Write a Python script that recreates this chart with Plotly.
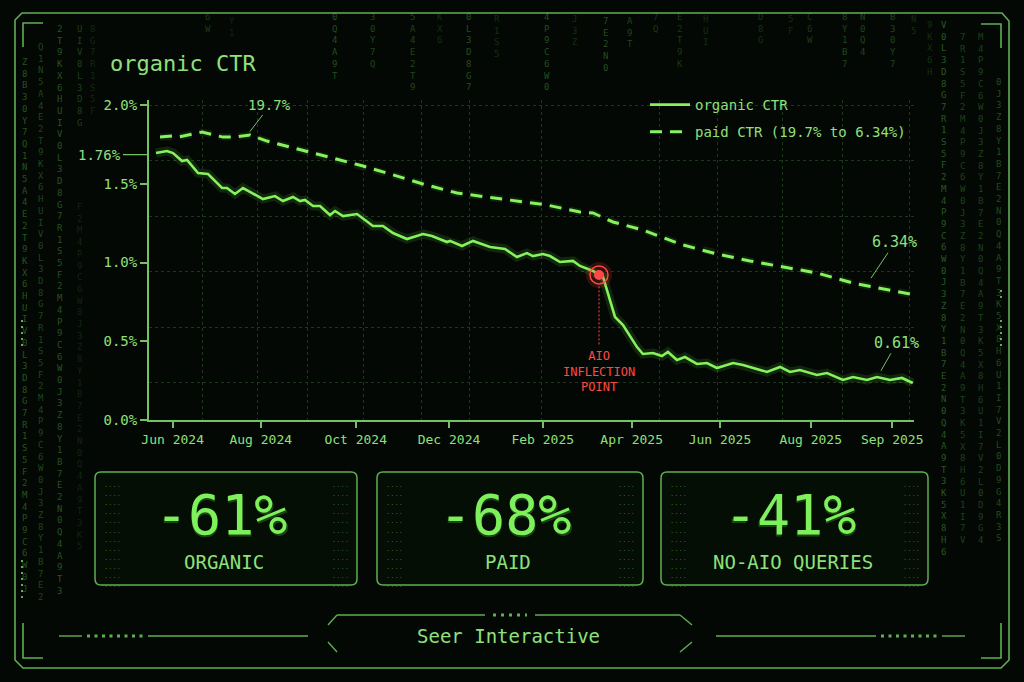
import plotly.graph_objects as go

W, H = 1024, 682

# ---------------- data (week index since start of June 2024) ----------------
org_week = [0.0, 0.99, 1.53, 2.34, 2.79, 3.78, 4.68, 5.94, 6.38, 7.10, 7.82, 8.45, 9.62,
            10.70, 11.42, 12.32, 12.95, 13.40, 14.12, 14.75, 15.65, 16.10, 16.82, 18.08,
            19.51, 20.41, 21.31, 22.57, 24.01, 24.82, 26.17, 26.44, 27.52, 28.51, 30.04,
            31.38, 32.46, 33.36, 33.90, 34.80, 35.43, 36.33, 37.50, 38.13, 39.30, 39.84,
            40.20, 41.28, 42.00, 43.26, 43.79, 44.69, 45.50, 46.04, 46.85, 47.57, 48.65,
            49.55, 50.45, 51.89, 52.79, 54.95, 56.12, 57.01, 57.91, 59.44, 60.34, 61.78,
            62.68, 63.94, 64.84, 66.01, 67.09, 68.06]
org_ctr = [1.695, 1.708, 1.695, 1.644, 1.651, 1.568, 1.562, 1.473, 1.473, 1.435, 1.473,
           1.448, 1.403, 1.422, 1.390, 1.416, 1.390, 1.397, 1.359, 1.359, 1.302, 1.327,
           1.295, 1.308, 1.232, 1.232, 1.187, 1.149, 1.181, 1.168, 1.130, 1.137, 1.105,
           1.137, 1.098, 1.086, 1.035, 1.060, 1.041, 1.054, 1.041, 1.003, 1.010, 0.978,
           0.946, 0.921, 0.908, 0.654, 0.603, 0.463, 0.419, 0.425, 0.406, 0.432, 0.381,
           0.400, 0.356, 0.362, 0.330, 0.362, 0.349, 0.305, 0.337, 0.305, 0.317, 0.286,
           0.298, 0.254, 0.273, 0.254, 0.273, 0.254, 0.267, 0.235]
inflection_idx = 45

paid_week = [0.36, 1.44, 1.98, 4.14, 6.03, 7.10, 8.45, 9.98, 12.05, 14.12, 16.55, 18.62,
             21.04, 21.94, 24.01, 27.07, 29.77, 32.10, 35.16, 38.13, 39.30, 41.10, 42.45,
             43.79, 47.39, 50.45, 53.42, 56.38, 59.44, 62.68, 65.38, 67.81]
paid_ctr = [19.69, 19.78, 19.69, 20.12, 19.69, 19.69, 19.87, 19.35, 18.84, 18.33, 17.73,
            17.21, 16.53, 16.27, 15.67, 14.90, 14.56, 14.22, 13.87, 13.27, 13.19, 12.42,
            12.08, 11.73, 10.45, 9.68, 9.08, 8.56, 8.05, 7.19, 6.68, 6.25]

x_tick_weeks = [1.50, 9.42, 17.96, 26.35, 34.78, 42.78, 50.72, 58.88, 66.21]
x_tick_text = ["Jun 2024", "Aug 2024", "Oct 2024", "Dec 2024", "Feb 2025",
               "Apr 2025", "Jun 2025", "Aug 2025", "Sep 2025"]
y_tick_vals = [0.0, 0.5, 1.0, 1.5, 2.0]
y_tick_text = ["0.0%", "0.5%", "1.0%", "1.5%", "2.0%"]
grid_weeks = [4.14, 9.17, 13.58, 18.62, 23.92, 28.15, 34.71, 45.32, 50.54, 56.38, 61.78, 67.72]

kpi_values = ["-61%", "-68%", "-41%"]
kpi_labels = ["ORGANIC", "PAID", "NO-AIO QUERIES"]

# ---------------- styling ----------------
BG = "#040804"
LINE = "#86f25e"
TXT = "#8fe07c"
AXIS = "#74c265"
FRAME = "#5fae52"
RED = "#ff4848"
MONO = "DejaVu Sans Mono"

X_RANGE = [-0.63, 68.17]
Y_RANGE = [0.0, 2.0317]
Y2_RANGE = [-4.539, 22.866]
DOM_X = [149 / W, 914 / W]
DOM_Y = [1 - 420 / H, 1 - 100 / H]


def px(x):
    return x / W


def py(y):
    return 1 - y / H


def P(x, y):
    return f"{px(x):.5f},{py(y):.5f}"


fig = go.Figure()

# organic glow + line
fig.add_trace(go.Scatter(x=org_week, y=org_ctr, mode="lines", showlegend=False,
                         line=dict(color="rgba(120,255,80,0.12)", width=9), hoverinfo="skip"))
fig.add_trace(go.Scatter(x=org_week, y=org_ctr, mode="lines", name="organic CTR",
                         legendgroup="a", line=dict(color=LINE, width=2.6)))
# paid glow + line
fig.add_trace(go.Scatter(x=paid_week, y=paid_ctr, mode="lines", yaxis="y2", showlegend=False,
                         line=dict(color="rgba(120,255,80,0.10)", width=7, dash="12px,8px"),
                         hoverinfo="skip"))
fig.add_trace(go.Scatter(x=paid_week, y=paid_ctr, mode="lines", yaxis="y2",
                         name="paid CTR (19.7% to 6.34%)", legendgroup="b",
                         line=dict(color=LINE, width=3, dash="12px,8px")))

# inflection marker
ix, iy = org_week[inflection_idx], org_ctr[inflection_idx]
fig.add_trace(go.Scatter(x=[ix], y=[iy], mode="markers", showlegend=False, hoverinfo="skip",
                         marker=dict(size=26, color="rgba(255,60,60,0.18)", line=dict(width=0))))
fig.add_trace(go.Scatter(x=[ix], y=[iy], mode="markers", showlegend=False, hoverinfo="skip",
                         marker=dict(size=18, color="rgba(0,0,0,0)", line=dict(width=1.5, color=RED))))
fig.add_trace(go.Scatter(x=[ix], y=[iy], mode="markers", showlegend=False,
                         marker=dict(size=10, color=RED, line=dict(width=0))))

shapes = []
annotations = []


def text(x, y, s, size, color=TXT, xa="center", ya="middle", **kw):
    annotations.append(dict(xref="paper", yref="paper", x=px(x), y=py(y), text=s,
                            showarrow=False, xanchor=xa, yanchor=ya,
                            font=dict(family=MONO, size=size, color=color), **kw))


# red dotted drop line
shapes.append(dict(type="line", xref="x", yref="y", x0=ix, x1=ix, y0=0.48, y1=iy - 0.06,
                   line=dict(color=RED, width=1, dash="2px,2px")))

# ---------------- frame ----------------
frame_pts = [(22, 13), (1002, 13), (1009, 21), (1009, 660), (1001, 668), (23, 668), (15, 660), (15, 20)]
path = "M" + " L".join(P(a, b) for a, b in frame_pts) + " Z"
shapes.append(dict(type="path", xref="paper", yref="paper", path=path,
                   line=dict(color=FRAME, width=1.6)))
for pts in [[(23, 47), (23, 23), (43, 23)], [(981, 24), (1001, 24), (1001, 48)],
            [(23, 623), (23, 658), (43, 658)], [(1001, 623), (1001, 658), (981, 658)]]:
    shapes.append(dict(type="path", xref="paper", yref="paper",
                       path="M" + " L".join(P(a, b) for a, b in pts),
                       line=dict(color=FRAME, width=1.6)))
# side dotted markers
for (x0, y0, y1) in [(22, 320, 346), (22, 560, 602), (1001, 320, 346), (1001, 290, 300)]:
    shapes.append(dict(type="line", xref="paper", yref="paper", x0=px(x0), x1=px(x0),
                       y0=py(y0), y1=py(y1), line=dict(color=FRAME, width=2, dash="2px,4px")))


# ---------------- footer ----------------
def hline(x0, x1, y, dash="solid", width=1.4, color=FRAME):
    shapes.append(dict(type="line", xref="paper", yref="paper", x0=px(x0), x1=px(x1),
                       y0=py(y), y1=py(y), line=dict(color=color, width=width, dash=dash)))


hline(59, 82, 636)
hline(87, 143, 636, dash="3px,4.5px", width=3)
hline(148, 308, 636)
hline(716, 876, 636)
hline(881, 937, 636, dash="3px,4.5px", width=3)
hline(942, 965, 636)
hline(337, 485, 615)
hline(493, 527, 615, dash="3px,5px", width=3)
hline(535, 680, 615)
for pts in [[(337, 615), (328, 625)], [(328, 642), (337, 652)],
            [(680, 615), (692, 625)], [(692, 642), (680, 652)]]:
    shapes.append(dict(type="path", xref="paper", yref="paper",
                       path="M" + " L".join(P(a, b) for a, b in pts),
                       line=dict(color=FRAME, width=1.4)))
text(508, 636, "Seer Interactive", 19)

# ---------------- matrix rain ----------------
POOL = ("Z8B30Y7Q1N5A4E2T9KX6HUIV0L3D8G7R1S5F2M4P9C6W0J3Z8Y1B7E2N0Q4A9T3K5X8H6U1I7V2L0"
        "D9G4R3S8F1M6P2C7W5J0Z3Y8B1E6N4Q9A2T7K0X3H5U8I1V6L4D2G9R7S0F3M8P5C1W6J9")
rain = [  # (x px, y start px, number of chars, alpha)
    (25, 55, 46, 0.34), (41, 40, 48, 0.28), (60, 22, 49, 0.34), (80, 22, 9, 0.26), (93, 22, 8, 0.16),
    (80, 200, 30, 0.14),
    (208, 10, 2, 0.22), (232, 14, 2, 0.14), (335, 10, 6, 0.32), (373, 10, 5, 0.28),
    (413, 10, 7, 0.28), (440, 10, 3, 0.18), (468, 10, 7, 0.32), (497, 12, 4, 0.18), (547, 10, 7, 0.32),
    (575, 12, 3, 0.18), (605, 14, 5, 0.32), (630, 14, 3, 0.28), (655, 10, 2, 0.22), (680, 10, 5, 0.22),
    (705, 12, 3, 0.18), (760, 10, 3, 0.2), (790, 12, 2, 0.18), (810, 10, 3, 0.22), (845, 10, 5, 0.28),
    (862, 10, 4, 0.28), (893, 10, 5, 0.28), (913, 12, 2, 0.18), (930, 18, 5, 0.18),
    (944, 18, 46, 0.36), (963, 30, 44, 0.26), (981, 30, 44, 0.26), (999, 75, 40, 0.30),
]
for k, (cx, cy, n, a) in enumerate(rain):
    s = POOL[(k * 7) % 60:(k * 7) % 60 + n]
    text(cx, cy, "<br>".join(s), 9, color=f"rgba(110,230,90,{a})", ya="top")


# ---------------- KPI boxes ----------------
def rrect(x0, y0, x1, y1, r):
    return (f"M{P(x0 + r, y0)} L{P(x1 - r, y0)} Q{P(x1, y0)} {P(x1, y0 + r)} "
            f"L{P(x1, y1 - r)} Q{P(x1, y1)} {P(x1 - r, y1)} L{P(x0 + r, y1)} "
            f"Q{P(x0, y1)} {P(x0, y1 - r)} L{P(x0, y0 + r)} Q{P(x0, y0)} {P(x0 + r, y0)} Z")


boxes = [(95, 472, 357, 585), (377, 472, 643, 585), (661, 472, 928, 585)]
dots = "<br>".join(["····"] * 12)
for (x0, y0, x1, y1), val, lab in zip(boxes, kpi_values, kpi_labels):
    shapes.append(dict(type="path", xref="paper", yref="paper", path=rrect(x0, y0, x1, y1, 6),
                       line=dict(color=FRAME, width=1.5), fillcolor="rgba(10,25,10,0.35)"))
    cx = (x0 + x1) / 2
    for sx in (x0 + 17, x1 - 17):
        text(sx, 481, dots, 7, color="rgba(140,220,120,0.45)", ya="top")
    text(cx - 5, 516, val, 56, color="rgba(120,255,80,0.22)")
    text(cx - 5, 515, val, 55, color="#7df05c")
    text(cx - 2, 562, lab, 19)

# ---------------- chart annotations ----------------
text(108, 63, "organic CTR", 22, xa="left")
annotations.append(dict(x=X_RANGE[0], y=org_ctr[0] - 0.01, xref="x", yref="y", text="1.76%",
                        showarrow=True, arrowhead=0, arrowcolor=AXIS, arrowwidth=1.3,
                        ax=-26, ay=0, xanchor="right", standoff=0,
                        font=dict(family=MONO, size=14, color=TXT)))
annotations.append(dict(x=paid_week[6], y=paid_ctr[6] + 0.3, xref="x", yref="y2", text="19.7%",
                        showarrow=True, arrowhead=0, arrowcolor=AXIS, arrowwidth=1,
                        ax=20, ay=-26, font=dict(family=MONO, size=14, color=TXT)))
annotations.append(dict(x=64.3, y=7.6, xref="x", yref="y2", text="6.34%",
                        showarrow=True, arrowhead=0, arrowcolor=AXIS, arrowwidth=1,
                        ax=24, ay=-36, font=dict(family=MONO, size=15, color=TXT)))
annotations.append(dict(x=65.2, y=org_ctr[-4] + 0.04, xref="x", yref="y", text="0.61%",
                        showarrow=True, arrowhead=0, arrowcolor=AXIS, arrowwidth=1,
                        ax=16, ay=-28, font=dict(family=MONO, size=15, color=TXT)))
annotations.append(dict(x=ix, y=0.31, xref="x", yref="y", text="AIO<br>INFLECTION<br>POINT",
                        showarrow=False, xanchor="center", yanchor="middle",
                        font=dict(family=MONO, size=12, color=RED)))

fig.update_layout(
    width=W, height=H,
    margin=dict(l=0, r=0, t=0, b=0, autoexpand=False),
    paper_bgcolor=BG, plot_bgcolor="rgba(0,0,0,0)",
    showlegend=True,
    legend=dict(x=px(645), y=py(89), xanchor="left", yanchor="top", bgcolor="rgba(0,0,0,0)",
                font=dict(family=MONO, size=14, color=TXT), traceorder="grouped",
                tracegroupgap=6, itemwidth=40),
    xaxis=dict(domain=DOM_X, range=X_RANGE, tickmode="array", tickvals=x_tick_weeks,
               ticktext=x_tick_text, showgrid=False, zeroline=False, showline=True,
               linecolor=AXIS, linewidth=2, ticks="outside", ticklen=6, tickwidth=2,
               tickcolor=AXIS, tickfont=dict(family=MONO, size=13, color=TXT),
               minor=dict(tickmode="array", tickvals=grid_weeks, showgrid=True,
                          gridcolor="#1d361c", gridwidth=1, griddash="3px,3px", ticks="")),
    yaxis=dict(domain=DOM_Y, range=Y_RANGE, tickmode="array", tickvals=y_tick_vals,
               ticktext=y_tick_text, showgrid=False, zeroline=False, showline=True,
               linecolor=AXIS, linewidth=2, ticks="outside", ticklen=7, tickwidth=2,
               tickcolor=AXIS, tickfont=dict(family=MONO, size=14, color=TXT),
               minor=dict(tick0=0.235, dtick=0.3524, showgrid=True, gridcolor="#1d361c",
                          gridwidth=1, griddash="3px,3px", ticks="")),
    yaxis2=dict(domain=DOM_Y, range=Y2_RANGE, overlaying="y", visible=False),
    shapes=shapes,
    annotations=annotations,
)

fig.write_html("out.html", config={"displayModeBar": False},
               post_script="document.body.style.margin='0';"
                           "document.body.style.background='#040804';")
